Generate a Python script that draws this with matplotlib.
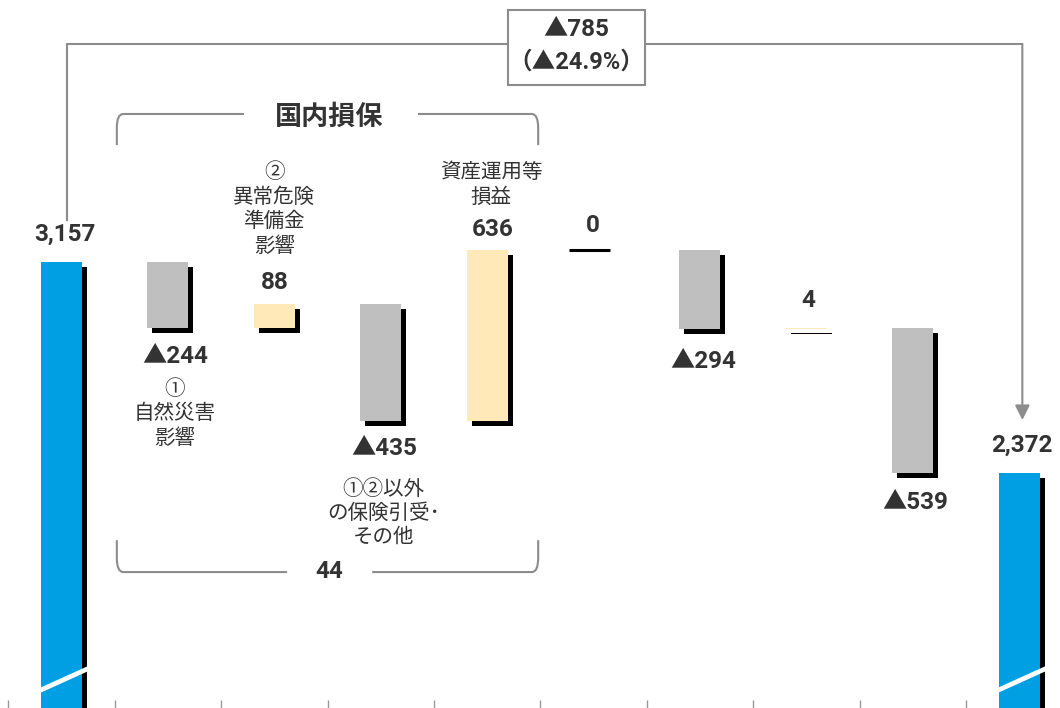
import matplotlib
matplotlib.use('Agg')
import matplotlib.pyplot as plt
import numpy as np
from matplotlib import patheffects as pe, transforms
from matplotlib.path import Path
from matplotlib.patches import PathPatch, Rectangle

# data
steps = ['start', 'nat_cat', 'cat_reserve', 'uw_other', 'investment',
         'item6', 'item7', 'item8', 'item9', 'end']
start_value = 3157
deltas = [-244, 88, -435, 636, 0, -294, 4, -539]
end_value = 2372
value_labels = ['3,157', '▲244', '88', '▲435', '636', '0', '▲294', '4', '▲539', '2,372']
notes = {1: '①\n自然災害\n影響',
         2: '②\n異常危険\n準備金\n影響',
         3: '①②以外\nの保険引受･\nその他',
         4: '資産運用等\n損益'}
change_label = '▲785'
change_pct = '（▲24.9%）'
group_label = '国内損保'
group_total = '44'

BLUE = '#009FE3'
GRAY = '#BFBFBF'
YELLOW = '#FFE9B8'
TXT = '#333333'
LINE = '#8C8C8C'
FONTS = ['Roboto', 'Noto Sans CJK JP']
PT = 0.72  # px -> pt at dpi 100

# waterfall geometry
x = np.arange(len(steps))
bottoms, heights, colors = [0], [start_value], [BLUE]
level = start_value
for d in deltas:
    bottoms.append(level + min(d, 0))
    heights.append(abs(d))
    colors.append(GRAY if d < 0 else YELLOW)
    level += d
bottoms.append(0)
heights.append(end_value)
colors.append(BLUE)
levels = np.cumsum([start_value] + deltas)

fig = plt.figure(figsize=(10.6, 7.08), dpi=100)
ax = fig.add_axes([0, 0, 1, 1])
ax.set_xlim(-0.578, 9.384)
ax.set_ylim(1499, 4131)
for s in ax.spines.values():
    s.set_visible(False)
ax.set_yticks([])
ax.set_xticks(np.arange(-0.5, 9, 1))
ax.set_xticklabels([])
ax.tick_params(axis='x', direction='in', length=6, color='#999999', width=1)

blend = transforms.blended_transform_factory(ax.transData, ax.transAxes)

width = 0.385
shadow = [pe.SimplePatchShadow(offset=(3.6, -3.6), shadow_rgbFace='black', alpha=1.0),
          pe.Normal()]
bars = ax.bar(x, heights, bottom=bottoms, width=width, color=colors,
              linewidth=0, zorder=3)
for b in bars:
    b.set_path_effects(shadow)
# zero-change item drawn as a line
for i, d in enumerate(deltas, start=1):
    if d == 0:
        ax.hlines(levels[i], x[i] - width / 2 - 0.04, x[i] + width / 2 - 0.04,
                  color='black', lw=2.2, zorder=4)

# axis break marks on total bars
for i in (0, len(steps) - 1):
    ax.plot([x[i] - 0.2, x[i] + 0.27], [0.025, 0.057], transform=blend,
            color='white', lw=3.4, zorder=6, solid_capstyle='butt')

# value labels
gaps = [28, 29, 21, 28, 20, 24, 33, 27, 30, 28]
dxs = [3, 7, 0, 3, 6, -1, 3, 2, 2, 3]
for i, lab in enumerate(value_labels):
    up = colors[i] != GRAY
    edge = bottoms[i] + heights[i] if up else bottoms[i]
    ax.annotate(lab, xy=(x[i], edge), xytext=(dxs[i] * PT, (gaps[i] if up else -gaps[i]) * PT),
                textcoords='offset points', ha='center', va='center',
                fontsize=17.5, fontweight='bold', color=TXT, family=FONTS, zorder=7)

# item notes
note_pos = {1: (7, -86), 2: (0, 95), 3: (3, -92), 4: (4, 65)}
for i, txt in notes.items():
    up = colors[i] != GRAY
    edge = bottoms[i] + heights[i] if up else bottoms[i]
    dx, dy = note_pos[i]
    ax.annotate(txt, xy=(x[i], edge), xytext=(dx * PT, dy * PT),
                textcoords='offset points', ha='center', va='center',
                fontsize=14.8, color=TXT, family=FONTS, linespacing=1.32)


def bracket(x0, x1, y_line, y_end, gap0, gap1, rx=0.06, ry=0.02):
    s = np.sign(y_end - y_line)
    left = Path([(x0, y_end), (x0, y_line + s * ry), (x0, y_line),
                 (x0 + rx, y_line), (gap0, y_line)],
                [Path.MOVETO, Path.LINETO, Path.CURVE3, Path.CURVE3, Path.LINETO])
    right = Path([(gap1, y_line), (x1 - rx, y_line), (x1, y_line),
                  (x1, y_line + s * ry), (x1, y_end)],
                 [Path.MOVETO, Path.LINETO, Path.CURVE3, Path.CURVE3, Path.LINETO])
    for p in (left, right):
        ax.add_patch(PathPatch(p, transform=blend, fill=False,
                               edgecolor=LINE, lw=1.5, zorder=2))


bracket(0.52, 4.48, 0.839, 0.795, 1.715, 3.35)
bracket(0.52, 4.48, 0.192, 0.237, 2.12, 2.92)
ax.text(2.52, 1 - 117 / 708, group_label, transform=blend, ha='center', va='center',
        fontsize=19.5, fontweight='bold', color=TXT, family=FONTS)
ax.text(2.52, 1 - 572 / 708, group_total, transform=blend, ha='center', va='center',
        fontsize=17.5, fontweight='bold', color=TXT, family=FONTS)

# overall change connector
xa, xb = 0.05, 9.03
ytop = 1 - 44 / 708
ax.plot([xa, xa, xb], [1 - 220 / 708, ytop, ytop], transform=blend,
        color=LINE, lw=1.5, zorder=2)
ax.annotate('', xy=(xb, 1 - 420 / 708), xytext=(xb, ytop), xycoords=blend,
            arrowprops=dict(arrowstyle='-|>', color=LINE, lw=1.5,
                            mutation_scale=22, shrinkA=0, shrinkB=0))
ax.add_patch(Rectangle((4.196, 0.880), 1.288, 0.106, transform=blend,
                       facecolor='white', edgecolor=LINE, lw=1.5, zorder=5))
ax.text(4.835, 1 - 30 / 708, change_label, transform=blend, ha='center', va='center',
        fontsize=17.5, fontweight='bold', color=TXT, family=FONTS, zorder=6)
ax.text(4.835, 1 - 62 / 708, change_pct, transform=blend, ha='center', va='center',
        fontsize=17, fontweight='bold', color=TXT, family=FONTS, zorder=6)

fig.savefig('out.png', dpi=100)
